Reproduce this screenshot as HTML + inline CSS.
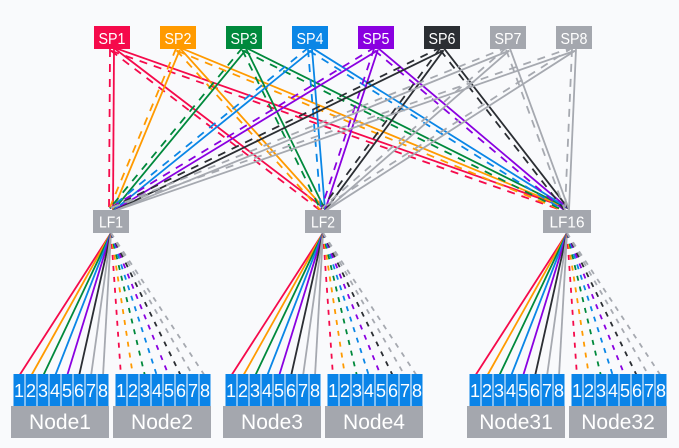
<!DOCTYPE html>
<html><head><meta charset="utf-8"><style>
html,body{margin:0;padding:0;background:#f9fafc;}
svg{display:block;font-family:"Liberation Sans",sans-serif;}
</style></head><body>
<svg width="679" height="448" viewBox="0 0 679 448" xmlns="http://www.w3.org/2000/svg">
<rect width="679" height="448" fill="#f9fafc"/>
<!-- spine to leaf lines -->
<g stroke-width="1.8" fill="none">
<g stroke="#f50a4b">
<line x1="114" y1="49" x2="113" y2="210"/><line x1="110" y1="49" x2="109" y2="210" stroke-dasharray="8 7"/>
<line x1="113.21" y1="47.41" x2="324.21" y2="208.41"/><line x1="110.79" y1="50.59" x2="321.79" y2="211.59" stroke-dasharray="8 7"/>
<line x1="112.67" y1="47.11" x2="567.67" y2="208.11"/><line x1="111.33" y1="50.89" x2="566.33" y2="211.89" stroke-dasharray="8 7"/>
</g>
<g stroke="#ff9a00">
<line x1="179.85" y1="49.77" x2="112.85" y2="210.77"/><line x1="176.15" y1="48.23" x2="109.15" y2="209.23" stroke-dasharray="8 7"/>
<line x1="179.49" y1="47.66" x2="324.49" y2="208.66"/><line x1="176.51" y1="50.34" x2="321.51" y2="211.34" stroke-dasharray="8 7"/>
<line x1="178.76" y1="47.15" x2="567.76" y2="208.15"/><line x1="177.24" y1="50.85" x2="566.24" y2="211.85" stroke-dasharray="8 7"/>
</g>
<g stroke="#00893c">
<line x1="245.54" y1="50.27" x2="112.54" y2="211.27"/><line x1="242.46" y1="47.73" x2="109.46" y2="208.73" stroke-dasharray="8 7"/>
<line x1="245.8" y1="48.12" x2="324.8" y2="209.12"/><line x1="242.2" y1="49.88" x2="321.2" y2="210.88" stroke-dasharray="8 7"/>
<line x1="244.89" y1="47.21" x2="567.89" y2="208.21"/><line x1="243.11" y1="50.79" x2="566.11" y2="211.79" stroke-dasharray="8 7"/>
</g>
<g stroke="#0a86e6">
<line x1="311.26" y1="50.55" x2="112.26" y2="211.55"/><line x1="308.74" y1="47.45" x2="109.74" y2="208.45" stroke-dasharray="8 7"/>
<line x1="311.99" y1="48.84" x2="324.99" y2="209.84"/><line x1="308.01" y1="49.16" x2="321.01" y2="210.16" stroke-dasharray="8 7"/>
<line x1="311.06" y1="47.31" x2="568.06" y2="208.31"/><line x1="308.94" y1="50.69" x2="565.94" y2="211.69" stroke-dasharray="8 7"/>
</g>
<g stroke="#8a00e0">
<line x1="377.04" y1="50.71" x2="112.04" y2="211.71"/><line x1="374.96" y1="47.29" x2="109.96" y2="208.29" stroke-dasharray="8 7"/>
<line x1="377.9" y1="49.63" x2="324.9" y2="210.63"/><line x1="374.1" y1="48.37" x2="321.1" y2="209.37" stroke-dasharray="8 7"/>
<line x1="377.29" y1="47.47" x2="568.29" y2="208.47"/><line x1="374.71" y1="50.53" x2="565.71" y2="211.53" stroke-dasharray="8 7"/>
</g>
<g stroke="#2b2e33">
<line x1="442.87" y1="50.8" x2="111.87" y2="211.8"/><line x1="441.13" y1="47.2" x2="110.13" y2="208.2" stroke-dasharray="8 7"/>
<line x1="443.61" y1="50.19" x2="324.61" y2="211.19"/><line x1="440.39" y1="47.81" x2="321.39" y2="208.81" stroke-dasharray="8 7"/>
<line x1="443.58" y1="47.77" x2="568.58" y2="208.77"/><line x1="440.42" y1="50.23" x2="565.42" y2="211.23" stroke-dasharray="8 7"/>
</g>
<g stroke="#a6a9b0">
<line x1="508.75" y1="50.85" x2="111.75" y2="211.85"/><line x1="507.25" y1="47.15" x2="110.25" y2="208.15" stroke-dasharray="8 7"/>
<line x1="509.31" y1="50.51" x2="324.31" y2="211.51"/><line x1="506.69" y1="47.49" x2="321.69" y2="208.49" stroke-dasharray="8 7"/>
<line x1="509.88" y1="48.31" x2="568.88" y2="209.31"/><line x1="506.12" y1="49.69" x2="565.12" y2="210.69" stroke-dasharray="8 7"/>
<line x1="574.66" y1="50.89" x2="111.66" y2="211.89"/><line x1="573.34" y1="47.11" x2="110.34" y2="208.11" stroke-dasharray="8 7"/>
<line x1="575.08" y1="50.68" x2="324.08" y2="211.68"/><line x1="572.92" y1="47.32" x2="321.92" y2="208.32" stroke-dasharray="8 7"/>
<line x1="576" y1="49.09" x2="569" y2="210.09"/><line x1="572" y1="48.91" x2="565" y2="209.91" stroke-dasharray="8 7"/>
</g>
</g>

<!-- leaf to node lines -->
<g stroke-width="1.8" fill="none">
<line x1="111" y1="233" x2="19" y2="376" stroke="#f50a4b"/>
<line x1="111" y1="233" x2="31" y2="376" stroke="#ff9a00"/>
<line x1="111" y1="233" x2="43" y2="376" stroke="#00893c"/>
<line x1="111" y1="233" x2="55" y2="376" stroke="#0a86e6"/>
<line x1="111" y1="233" x2="67" y2="376" stroke="#8a00e0"/>
<line x1="111" y1="233" x2="79" y2="376" stroke="#2b2e33"/>
<line x1="111" y1="233" x2="91" y2="376" stroke="#a6a9b0"/>
<line x1="111" y1="233" x2="103" y2="376" stroke="#a6a9b0"/>
<g stroke-dasharray="5 6">
<line x1="111" y1="233" x2="121" y2="376" stroke="#f50a4b"/>
<line x1="111" y1="233" x2="133" y2="376" stroke="#ff9a00"/>
<line x1="111" y1="233" x2="145" y2="376" stroke="#00893c"/>
<line x1="111" y1="233" x2="157" y2="376" stroke="#0a86e6"/>
<line x1="111" y1="233" x2="169" y2="376" stroke="#8a00e0"/>
<line x1="111" y1="233" x2="181" y2="376" stroke="#2b2e33"/>
<line x1="111" y1="233" x2="193" y2="376" stroke="#a6a9b0"/>
<line x1="111" y1="233" x2="205" y2="376" stroke="#a6a9b0"/>
</g>
<line x1="323" y1="233" x2="231" y2="376" stroke="#f50a4b"/>
<line x1="323" y1="233" x2="243" y2="376" stroke="#ff9a00"/>
<line x1="323" y1="233" x2="255" y2="376" stroke="#00893c"/>
<line x1="323" y1="233" x2="267" y2="376" stroke="#0a86e6"/>
<line x1="323" y1="233" x2="279" y2="376" stroke="#8a00e0"/>
<line x1="323" y1="233" x2="291" y2="376" stroke="#2b2e33"/>
<line x1="323" y1="233" x2="303" y2="376" stroke="#a6a9b0"/>
<line x1="323" y1="233" x2="315" y2="376" stroke="#a6a9b0"/>
<g stroke-dasharray="5 6">
<line x1="323" y1="233" x2="333" y2="376" stroke="#f50a4b"/>
<line x1="323" y1="233" x2="345" y2="376" stroke="#ff9a00"/>
<line x1="323" y1="233" x2="357" y2="376" stroke="#00893c"/>
<line x1="323" y1="233" x2="369" y2="376" stroke="#0a86e6"/>
<line x1="323" y1="233" x2="381" y2="376" stroke="#8a00e0"/>
<line x1="323" y1="233" x2="393" y2="376" stroke="#2b2e33"/>
<line x1="323" y1="233" x2="405" y2="376" stroke="#a6a9b0"/>
<line x1="323" y1="233" x2="417" y2="376" stroke="#a6a9b0"/>
</g>
<line x1="567" y1="233" x2="475" y2="376" stroke="#f50a4b"/>
<line x1="567" y1="233" x2="487" y2="376" stroke="#ff9a00"/>
<line x1="567" y1="233" x2="499" y2="376" stroke="#00893c"/>
<line x1="567" y1="233" x2="511" y2="376" stroke="#0a86e6"/>
<line x1="567" y1="233" x2="523" y2="376" stroke="#8a00e0"/>
<line x1="567" y1="233" x2="535" y2="376" stroke="#2b2e33"/>
<line x1="567" y1="233" x2="547" y2="376" stroke="#a6a9b0"/>
<line x1="567" y1="233" x2="559" y2="376" stroke="#a6a9b0"/>
<g stroke-dasharray="5 6">
<line x1="567" y1="233" x2="577" y2="376" stroke="#f50a4b"/>
<line x1="567" y1="233" x2="589" y2="376" stroke="#ff9a00"/>
<line x1="567" y1="233" x2="601" y2="376" stroke="#00893c"/>
<line x1="567" y1="233" x2="613" y2="376" stroke="#0a86e6"/>
<line x1="567" y1="233" x2="625" y2="376" stroke="#8a00e0"/>
<line x1="567" y1="233" x2="637" y2="376" stroke="#2b2e33"/>
<line x1="567" y1="233" x2="649" y2="376" stroke="#a6a9b0"/>
<line x1="567" y1="233" x2="661" y2="376" stroke="#a6a9b0"/>
</g>
</g>

<!-- spine boxes -->
<g font-size="16" fill="#ffffff" text-anchor="middle">
<rect x="94" y="26" width="36" height="23" fill="#f50a4b"/><text x="112" y="44" textLength="27" lengthAdjust="spacingAndGlyphs">SP1</text>
<rect x="160" y="26" width="36" height="23" fill="#ff9a00"/><text x="178" y="44" textLength="27" lengthAdjust="spacingAndGlyphs">SP2</text>
<rect x="226" y="26" width="36" height="23" fill="#00893c"/><text x="244" y="44" textLength="27" lengthAdjust="spacingAndGlyphs">SP3</text>
<rect x="292" y="26" width="36" height="23" fill="#0a86e6"/><text x="310" y="44" textLength="27" lengthAdjust="spacingAndGlyphs">SP4</text>
<rect x="358" y="26" width="36" height="23" fill="#8a00e0"/><text x="376" y="44" textLength="27" lengthAdjust="spacingAndGlyphs">SP5</text>
<rect x="424" y="26" width="36" height="23" fill="#2b2e33"/><text x="442" y="44" textLength="27" lengthAdjust="spacingAndGlyphs">SP6</text>
<rect x="490" y="26" width="36" height="23" fill="#a4a7ae"/><text x="508" y="44" textLength="27" lengthAdjust="spacingAndGlyphs">SP7</text>
<rect x="556" y="26" width="36" height="23" fill="#a4a7ae"/><text x="574" y="44" textLength="27" lengthAdjust="spacingAndGlyphs">SP8</text>
</g>

<!-- leaf boxes -->
<g font-size="16" fill="#ffffff" text-anchor="middle">
<rect x="93" y="210" width="36" height="23" fill="#a4a7ae"/><text x="111" y="227.5" textLength="24" lengthAdjust="spacingAndGlyphs">LF1</text>
<rect x="305" y="210" width="36" height="23" fill="#a4a7ae"/><text x="323" y="227.5" textLength="24" lengthAdjust="spacingAndGlyphs">LF2</text>
<rect x="543" y="210" width="48" height="23" fill="#a4a7ae"/><text x="567" y="227.5" textLength="35" lengthAdjust="spacingAndGlyphs">LF16</text>
</g>

<!-- nodes -->
<g fill="#a4a7ae">
<rect x="11" y="406" width="98" height="32"/>
<rect x="113" y="406" width="98" height="32"/>
<rect x="223" y="406" width="98" height="32"/>
<rect x="325" y="406" width="98" height="32"/>
<rect x="467" y="406" width="98" height="32"/>
<rect x="569" y="406" width="98" height="32"/>
</g>
<g font-size="21" fill="#ffffff" text-anchor="middle">
<text x="60" y="429">Node1</text>
<text x="162" y="429">Node2</text>
<text x="272" y="429">Node3</text>
<text x="374" y="429">Node4</text>
<text x="516" y="429">Node31</text>
<text x="618" y="429">Node32</text>
</g>

<!-- ports -->
<g fill="#0a84e8">
<rect x="13.5" y="374" width="11" height="32"/><rect x="25.5" y="374" width="11" height="32"/><rect x="37.5" y="374" width="11" height="32"/><rect x="49.5" y="374" width="11" height="32"/><rect x="61.5" y="374" width="11" height="32"/><rect x="73.5" y="374" width="11" height="32"/><rect x="85.5" y="374" width="11" height="32"/><rect x="97.5" y="374" width="11" height="32"/>
<rect x="115.5" y="374" width="11" height="32"/><rect x="127.5" y="374" width="11" height="32"/><rect x="139.5" y="374" width="11" height="32"/><rect x="151.5" y="374" width="11" height="32"/><rect x="163.5" y="374" width="11" height="32"/><rect x="175.5" y="374" width="11" height="32"/><rect x="187.5" y="374" width="11" height="32"/><rect x="199.5" y="374" width="11" height="32"/>
<rect x="225.5" y="374" width="11" height="32"/><rect x="237.5" y="374" width="11" height="32"/><rect x="249.5" y="374" width="11" height="32"/><rect x="261.5" y="374" width="11" height="32"/><rect x="273.5" y="374" width="11" height="32"/><rect x="285.5" y="374" width="11" height="32"/><rect x="297.5" y="374" width="11" height="32"/><rect x="309.5" y="374" width="11" height="32"/>
<rect x="327.5" y="374" width="11" height="32"/><rect x="339.5" y="374" width="11" height="32"/><rect x="351.5" y="374" width="11" height="32"/><rect x="363.5" y="374" width="11" height="32"/><rect x="375.5" y="374" width="11" height="32"/><rect x="387.5" y="374" width="11" height="32"/><rect x="399.5" y="374" width="11" height="32"/><rect x="411.5" y="374" width="11" height="32"/>
<rect x="469.5" y="374" width="11" height="32"/><rect x="481.5" y="374" width="11" height="32"/><rect x="493.5" y="374" width="11" height="32"/><rect x="505.5" y="374" width="11" height="32"/><rect x="517.5" y="374" width="11" height="32"/><rect x="529.5" y="374" width="11" height="32"/><rect x="541.5" y="374" width="11" height="32"/><rect x="553.5" y="374" width="11" height="32"/>
<rect x="571.5" y="374" width="11" height="32"/><rect x="583.5" y="374" width="11" height="32"/><rect x="595.5" y="374" width="11" height="32"/><rect x="607.5" y="374" width="11" height="32"/><rect x="619.5" y="374" width="11" height="32"/><rect x="631.5" y="374" width="11" height="32"/><rect x="643.5" y="374" width="11" height="32"/><rect x="655.5" y="374" width="11" height="32"/>
</g>
<g font-size="18" fill="#ffffff" text-anchor="middle">
<text x="19" y="397">1</text><text x="31" y="397">2</text><text x="43" y="397">3</text><text x="55" y="397">4</text><text x="67" y="397">5</text><text x="79" y="397">6</text><text x="91" y="397">7</text><text x="103" y="397">8</text>
<text x="121" y="397">1</text><text x="133" y="397">2</text><text x="145" y="397">3</text><text x="157" y="397">4</text><text x="169" y="397">5</text><text x="181" y="397">6</text><text x="193" y="397">7</text><text x="205" y="397">8</text>
<text x="231" y="397">1</text><text x="243" y="397">2</text><text x="255" y="397">3</text><text x="267" y="397">4</text><text x="279" y="397">5</text><text x="291" y="397">6</text><text x="303" y="397">7</text><text x="315" y="397">8</text>
<text x="333" y="397">1</text><text x="345" y="397">2</text><text x="357" y="397">3</text><text x="369" y="397">4</text><text x="381" y="397">5</text><text x="393" y="397">6</text><text x="405" y="397">7</text><text x="417" y="397">8</text>
<text x="475" y="397">1</text><text x="487" y="397">2</text><text x="499" y="397">3</text><text x="511" y="397">4</text><text x="523" y="397">5</text><text x="535" y="397">6</text><text x="547" y="397">7</text><text x="559" y="397">8</text>
<text x="577" y="397">1</text><text x="589" y="397">2</text><text x="601" y="397">3</text><text x="613" y="397">4</text><text x="625" y="397">5</text><text x="637" y="397">6</text><text x="649" y="397">7</text><text x="661" y="397">8</text>
</g>
</svg>
</body></html>
